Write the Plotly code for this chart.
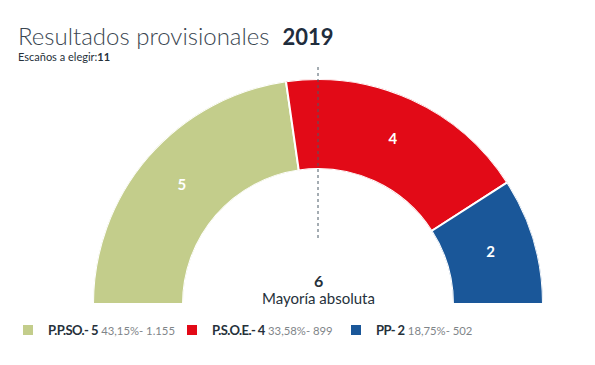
import plotly.graph_objects as go

parties = ["P.P.SO.", "P.S.O.E.", "PP"]
seats = [5, 4, 2]
pct = ["43,15%", "33,58%", "18,75%"]
votes = ["1.155", "899", "502"]
colors = ["#c3cd8b", "#e20a17", "#1a5799"]
total_seats = 11
majority = 6
year = "2019"

W, H, OFF = 595, 365, 8


def px(x):
    return (x - OFF) / W


def py(y):
    return 1 - (y - OFF) / H


fig = go.Figure()

start = 0.0
centers, widths = [], []
for s in seats:
    w = 180.0 * s / total_seats
    centers.append(start + w / 2)
    widths.append(w)
    start += w

for i, p in enumerate(parties):
    name = (f"<span style='letter-spacing:-0.6px'><b>{p}- {seats[i]}</b></span> "
            f"<span style='color:#7f8589;font-size:11.3px'>{pct[i]}- {votes[i]}</span>")
    fig.add_trace(go.Barpolar(
        r=[1], theta=[centers[i]], width=[widths[i]], base=0,
        marker=dict(color=colors[i], line=dict(color="white", width=2)),
        name=name, hoverinfo="skip",
    ))

fig.add_trace(go.Scatterpolar(
    r=[0.5] * len(seats), theta=centers, mode="text",
    text=[str(s) for s in seats],
    textfont=dict(color="white", size=15, family="Lato", weight="bold"),
    showlegend=False, hoverinfo="skip",
))

fig.update_layout(
    width=W, height=H,
    margin=dict(l=0, r=0, t=0, b=0),
    paper_bgcolor="white", plot_bgcolor="white",
    font=dict(family="Lato", color="#26313b"),
    polar=dict(
        domain=dict(x=[px(93), px(543)], y=[py(304), py(79)]),
        sector=[0, 180], hole=0.6, bgcolor="white",
        angularaxis=dict(rotation=180, direction="clockwise", visible=False,
                         showgrid=False, showline=False, showticklabels=False, ticks=""),
        radialaxis=dict(range=[0, 1], visible=False, showgrid=False,
                        showline=False, showticklabels=False, ticks=""),
    ),
    legend=dict(orientation="h", x=0, y=1 - 307 / H, xanchor="left", yanchor="top",
                font=dict(size=13, color="#26313b"), itemclick=False,
                traceorder="normal", entrywidth=119, entrywidthmode="pixels"),
    shapes=[dict(type="line", xref="paper", yref="paper",
                 x0=px(318), x1=px(318), y0=py(238), y1=py(65),
                 line=dict(color="#4a5a66", width=1, dash="dot"))],
    annotations=[
        dict(text=("Resultados provisionales  "
                   f"<span style='font-size:22px;color:#1f2d3d'><b>{year}</b></span>"),
             x=px(16), y=py(35),
             xref="paper", yref="paper", xanchor="left", yanchor="middle",
             showarrow=False, font=dict(size=24, color="#3a4651", family="Lato", weight=300)),
        dict(text=f"Escaños a elegir:<b>{total_seats}</b>", x=px(16), y=py(56),
             xref="paper", yref="paper", xanchor="left", yanchor="middle",
             showarrow=False, font=dict(size=11, color="#26313b", family="Lato")),
        dict(text=f"<b>{majority}</b>", x=px(318), y=py(280),
             xref="paper", yref="paper", xanchor="center", yanchor="middle",
             showarrow=False, font=dict(size=16, color="#26313b", family="Lato")),
        dict(text="Mayoría absoluta", x=px(318), y=py(298),
             xref="paper", yref="paper", xanchor="center", yanchor="middle",
             showarrow=False, font=dict(size=15, color="#26313b", family="Lato")),
    ],
)

fig.write_html("out.html")
